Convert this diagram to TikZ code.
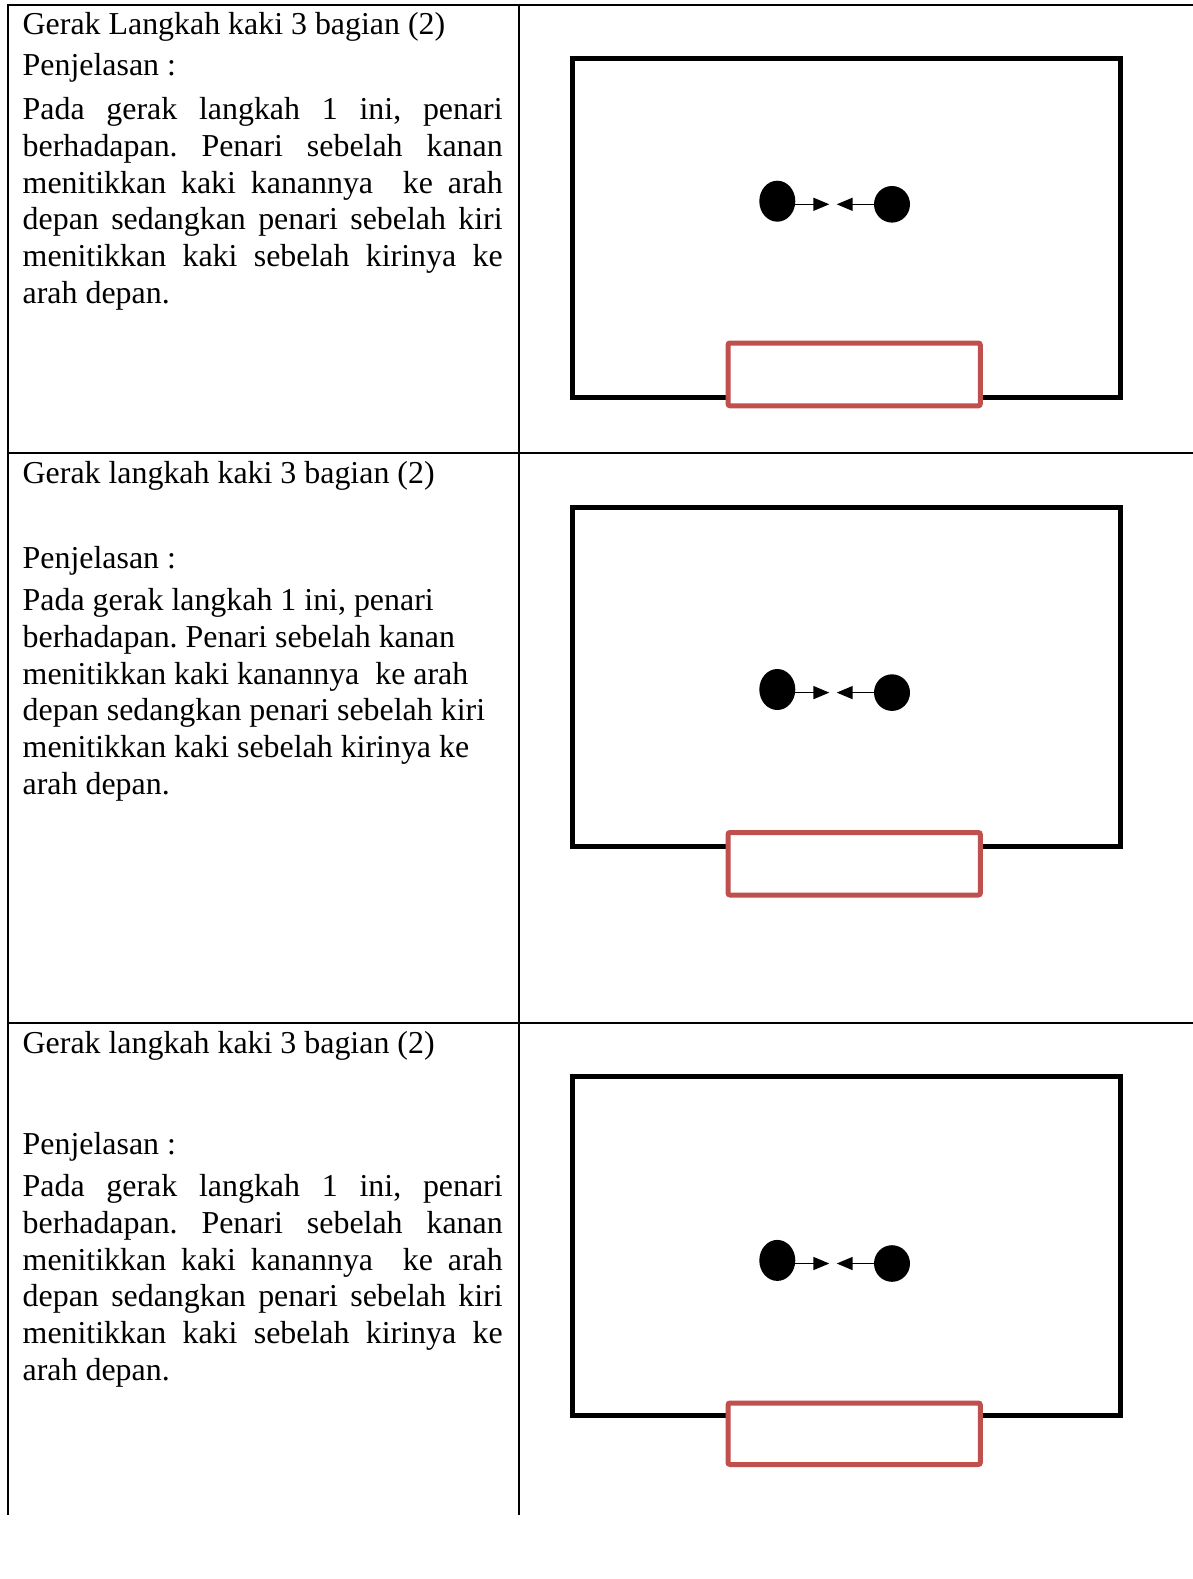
\documentclass[tikz,border=0pt]{standalone}
\usepackage{fontspec}
\setmainfont{Liberation Serif}
\usetikzlibrary{shapes.geometric,arrows.meta}
\definecolor{frontred}{HTML}{C0504D}
\frenchspacing
\newcommand\bodyfont{\fontsize{31.9}{36.8}\selectfont\frenchspacing}
\newcommand\jline[1]{\makebox[480pt][s]{#1}}
\tikzset{
  txt/.style={anchor=base west, inner sep=0pt, outer sep=0pt, font=\bodyfont},
  gridline/.style={line width=2pt, line cap=rect},
  stage/.style={draw=black, line width=5pt, miter limit=10},
  front/.style={draw=frontred, fill=white, line width=5pt, rounded corners=2pt},
  dancer/.style={fill=black, ellipse, inner sep=0pt, outer sep=0pt},
  move/.style={line width=1.6pt, -{Triangle[length=16pt,width=13pt]}},
}
% #1 name, #2 stage top, #3 stage bottom, #4 red top, #5 red bottom, #6 arrow y
\newcommand\stagepic[6]{%
  \draw[stage] (572.5,#2) rectangle (1120,#3);
  \draw[front] (728,#4) rectangle (980.3,#5);
  \node[dancer, minimum width=36pt, minimum height=41pt] (#1L) at (777.3,{#6-3.1}) {};
  \node[dancer, minimum width=36pt, minimum height=36.6pt] (#1R) at (892,#6) {};
  \coordinate (#1a) at (829.3,#6);
  \coordinate (#1b) at (836.7,#6);
  \draw[move] (#1L.east |- #1a) -- (#1a);
  \draw[move] (#1R.west) -- (#1b);
}
\begin{document}
\begin{tikzpicture}[x=1pt,y=-1pt]
\useasboundingbox (0,0) rectangle (1192,1579);
% table grid
\draw[gridline] (8,5) -- (1192,5);
\draw[gridline] (8,453) -- (1192,453);
\draw[gridline] (8,1023) -- (1192,1023);
\draw[line width=2pt] (8,5) -- (8,1515);
\draw[line width=2pt] (519,5) -- (519,1515);

% row 1 text
\node[txt] (t1) at (22.7,35) {Gerak Langkah kaki 3 bagian (2)};
\node[txt] (p1) at (22.7,76) {Penjelasan :};
\node[txt] (a1) at (22.7,119.5) {\jline{Pada gerak langkah 1 ini, penari}};
\node[txt] (a2) at (22.7,156.3) {\jline{berhadapan. Penari sebelah kanan}};
\node[txt] (a3) at (22.7,193.1) {\jline{menitikkan kaki kanannya\ \ ke arah}};
\node[txt] (a4) at (22.7,229.9) {\jline{depan sedangkan penari sebelah kiri}};
\node[txt] (a5) at (22.7,266.7) {\jline{menitikkan kaki sebelah kirinya ke}};
\node[txt] (a6) at (22.7,303.5) {arah depan.};

% row 2 text
\node[txt] (t2) at (22.7,483.7) {Gerak langkah kaki 3 bagian (2)};
\node[txt] (p2) at (22.7,568.3) {Penjelasan :};
\node[txt] (b1) at (22.7,610.5) {Pada gerak langkah 1 ini, penari};
\node[txt] (b2) at (22.7,647.3) {berhadapan. Penari sebelah kanan};
\node[txt] (b3) at (22.7,684.1) {menitikkan kaki kanannya\ \ ke arah};
\node[txt] (b4) at (22.7,720.9) {depan sedangkan penari sebelah kiri};
\node[txt] (b5) at (22.7,757.7) {menitikkan kaki sebelah kirinya ke};
\node[txt] (b6) at (22.7,794.5) {arah depan.};

% row 3 text
\node[txt] (t3) at (22.7,1053.5) {Gerak langkah kaki 3 bagian (2)};
\node[txt] (p3) at (22.7,1154.2) {Penjelasan :};
\node[txt] (c1) at (22.7,1196.5) {\jline{Pada gerak langkah 1 ini, penari}};
\node[txt] (c2) at (22.7,1233.3) {\jline{berhadapan. Penari sebelah kanan}};
\node[txt] (c3) at (22.7,1270.1) {\jline{menitikkan kaki kanannya\ \ ke arah}};
\node[txt] (c4) at (22.7,1306.9) {\jline{depan sedangkan penari sebelah kiri}};
\node[txt] (c5) at (22.7,1343.7) {\jline{menitikkan kaki sebelah kirinya ke}};
\node[txt] (c6) at (22.7,1380.5) {arah depan.};

% stage diagrams
\stagepic{s1}{59}{397.5}{343}{405.8}{204.3}
\stagepic{s2}{507.6}{846}{832.5}{895}{692.6}
\stagepic{s3}{1076.8}{1415.4}{1403}{1464.5}{1263.5}
\end{tikzpicture}
\end{document}
